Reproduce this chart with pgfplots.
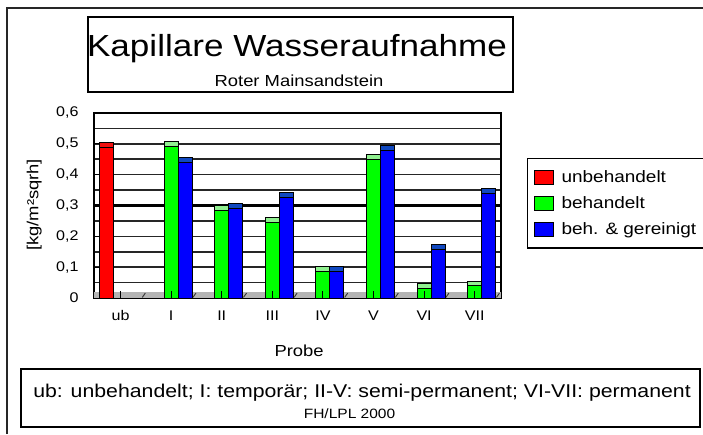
\documentclass[border=0pt]{standalone}
\usepackage{fontspec}
\setmainfont{Liberation Sans}[FakeStretch=1.15]
\usepackage{pgfplots}
\usepackage{pgfplotstable}
\pgfplotsset{compat=1.18}
\definecolor{cred}{HTML}{FF0000}
\definecolor{cgreen}{HTML}{00FF00}
\definecolor{cblue}{HTML}{0000FF}
\definecolor{capred}{HTML}{F01010}
\definecolor{capgreen}{HTML}{90F090}
\definecolor{capblue}{HTML}{1048C0}
\definecolor{floorgray}{HTML}{B4B4B4}

\pgfplotstableread{
x r
0 0.488
}\untreated
\pgfplotstableread{
x g b
1 0.490 0.440
2 0.285 0.291
3 0.245 0.325
4 0.085 0.085
5 0.450 0.478
6 0.031 0.156
7 0.039 0.340
}\treated

\begin{document}
\begin{tikzpicture}
\path[use as bounding box] (0pt,0pt) rectangle (703pt,434pt);
% outer frame
\draw[line width=1.6pt, black!85] (7pt,0pt) -- (7pt,426pt) -- (703pt,426pt);
% title box
\draw[line width=1.4pt] (88pt,342pt) rectangle (513pt,417pt);
\node[anchor=base, inner sep=0pt, font=\fontsize{30.5}{34}\selectfont] at (297pt,377.5pt) {Kapillare Wasseraufnahme};
\node[anchor=base, inner sep=0pt, font=\fontsize{16}{19}\selectfont] at (299pt,347pt) {Roter Mainsandstein};
% footer box
\draw[line width=1.4pt] (21pt,7pt) rectangle (700pt,65pt);
\node[anchor=base, inner sep=0pt, font=\fontsize{18.5}{22}\selectfont] at (362pt,37pt) {ub: unbehandelt; I: temporär; II-V: semi-permanent; VI-VII: permanent};
\node[anchor=base, inner sep=0pt, font=\fontsize{13.5}{16}\selectfont] at (349.5pt,16pt) {FH/LPL 2000};

\begin{axis}[
  at={(94pt,136pt)}, anchor=south west,
  scale only axis, width=407pt, height=185pt,
  xmin=-0.525, xmax=7.52, ymin=0, ymax=0.6,
  ybar, bar width=14pt,
  xtick={0,1,2,3,4,5,6,7},
  xticklabels={ub,I,II,III,IV,V,VI,VII},
  x tick style={draw=none},
  xticklabel style={font=\fontsize{14}{16}\selectfont, yshift=-3pt},
  ytick={0,0.1,0.2,0.3,0.4,0.5,0.6},
  minor ytick={0.05,0.15,0.25,0.35,0.45,0.55},
  ytick pos=left,
  ymajorgrids, yminorgrids,
  major grid style={black!85, line width=1.6pt},
  minor grid style={black!85, line width=1.6pt},
  y tick style={black, line width=1pt},
  major tick length=6pt, minor tick length=0pt,
  yticklabel style={/pgf/number format/.cd, fixed, precision=1, use comma, assume math mode=true, /tikz/.cd, font=\fontsize{14}{16}\selectfont, xshift=-12pt},
  axis line style={black, line width=1.8pt},
  ylabel={[kg/m²sqrh]},
  ylabel style={at={(axis description cs:-0.147,0.503)}, anchor=center, font=\fontsize{16}{19}\selectfont},
  xlabel={Probe},
  xlabel style={at={(axis description cs:0.504,-0.286)}, anchor=center, font=\fontsize{16}{19}\selectfont},
  legend style={at={(axis description cs:1.064,0.757)}, anchor=north west,
    draw=black, line width=1.2pt, font=\fontsize{16.5}{19}\selectfont,
    row sep=8.5pt, inner xsep=6pt, inner ysep=10pt, cells={anchor=west}},
  legend cell align=left,
  myleg/.style={legend image code/.code={\draw[##1, draw=black, line width=0.8pt] (0pt,-7pt) rectangle (19pt,7pt); \path (25pt,0pt);}},
]
% thick line at 0.3
\draw[black, line width=2.6pt] (axis cs:-0.525,0.3) -- (axis cs:7.52,0.3);
% floor
\fill[floorgray] (axis cs:-0.525,0) rectangle (axis cs:7.52,0.018);
\pgfplotsinvokeforeach{0,...,7}{
  \draw[black!80, line width=0.9pt] (axis cs:#1+0.43,0.002) -- (axis cs:#1+0.49,0.016);
}
% caps
\addplot[forget plot, bar shift=-14pt, fill=capred, draw=black, line width=1pt] table[x=x, y expr=\thisrow{r}+0.016]{\untreated};
\addplot[forget plot, bar shift=0pt, fill=capgreen, draw=black, line width=1pt] table[x=x, y expr=\thisrow{g}+0.016]{\treated};
\addplot[forget plot, bar shift=14pt, fill=capblue, draw=black, line width=1pt] table[x=x, y expr=\thisrow{b}+0.016]{\treated};
% front faces
\addplot[myleg, bar shift=-14pt, fill=cred, draw=black, line width=1pt] table[x=x, y=r]{\untreated};
\addplot[myleg, bar shift=0pt, fill=cgreen, draw=black, line width=1pt] table[x=x, y=g]{\treated};
\addplot[myleg, bar shift=14pt, fill=cblue, draw=black, line width=1pt] table[x=x, y=b]{\treated};
% category ticks on the floor
\pgfplotsinvokeforeach{0,...,7}{
  \draw[black, line width=1pt] (axis cs:#1,0) -- (axis cs:#1,0.022);
}
% top edge
\draw[black, line width=2.8pt] (axis cs:-0.525,0.6) -- (axis cs:7.52,0.6);
\legend{unbehandelt, behandelt, beh. \& gereinigt}
\end{axis}
\end{tikzpicture}
\end{document}
